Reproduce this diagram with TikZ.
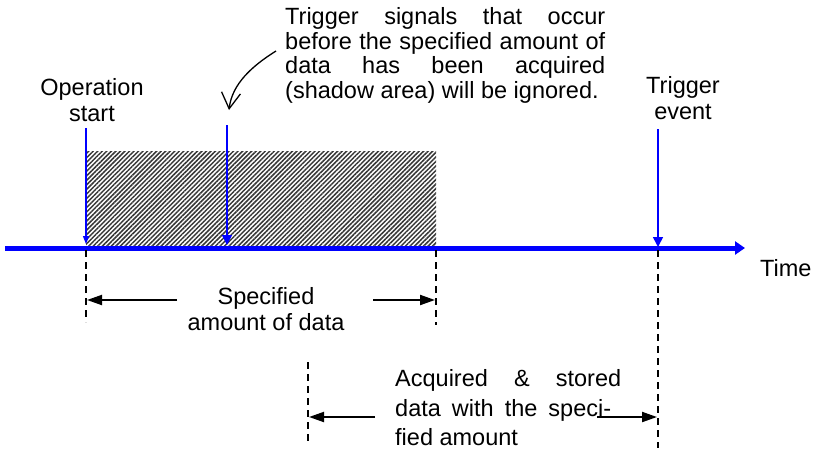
\documentclass[tikz,border=0pt]{standalone}
\usepackage{fontspec}
\setmainfont{Liberation Sans}
\usetikzlibrary{arrows.meta,patterns.meta}

\definecolor{axisblue}{RGB}{0,0,255}
\definecolor{hatchgray}{RGB}{55,55,55}

% a justified line of a given width
\newcommand{\spreadline}[2]{\makebox[#1][s]{#2}}

% multi-line nodes are anchored at the baseline of their last line
\tikzset{
  labeltext/.style={font=\fontsize{23.5}{26}\selectfont, inner sep=0pt, align=center},
  notetext/.style={font=\fontsize{23.5}{24.4}\selectfont, inner sep=0pt, align=left},
  spantext/.style={font=\fontsize{23.5}{29.5}\selectfont, inner sep=0pt, align=left},
  timeaxis/.style={axisblue, line width=5pt, -{Triangle[length=10pt,width=13pt]}},
  startmark/.style={axisblue, line width=1.1pt, -{Triangle[length=8pt,width=6pt]}},
  marker/.style={axisblue, line width=1.6pt, -{Triangle[length=10pt,width=10pt]}},
  guide/.style={black, line width=1.3pt, dash pattern=on 7pt off 5pt},
  span/.style={black, line width=2pt, -{Triangle[length=15pt,width=10pt]}},
  pointer/.style={black, line width=1.3pt, -{Straight Barb[length=16pt,width=19pt]}},
  shadow/.style={pattern={Lines[angle=45,distance=3.2pt,line width=1.5pt]}, pattern color=hatchgray},
}

\begin{document}
\begin{tikzpicture}[x=1pt, y=-1pt]
\useasboundingbox (0,0) rectangle (821,448);

% time axis points
\coordinate (axisL) at (5,248);
\coordinate (axisR) at (745,248);

% ignored region before enough data is acquired
\fill[shadow] (86,151) rectangle (436,247);

% time axis
\draw[timeaxis] (axisL) -- (axisR);
\node[labeltext, anchor=base west] (timeLbl) at (760,276) {Time};

% operation start marker
\coordinate (opTop) at (86,128);
\coordinate (opTip) at (86,244);
\draw[startmark] (opTop) -- (opTip);
\node[labeltext, anchor=base] (opLbl) at (92,121) {Operation\\start};

% an ignored trigger inside the shaded region
\coordinate (midTop) at (227,125);
\coordinate (midTip) at (227,245);
\draw[marker] (midTop) -- (midTip);

% trigger event marker
\coordinate (trTop) at (658,129);
\coordinate (trTip) at (658,247);
\draw[marker] (trTop) -- (trTip);
\node[labeltext, anchor=base] (trLbl) at (683,119) {Trigger\\event};

% explanatory note with its pointer
\node[notetext, anchor=base west] (note) at (285,98)
  {\spreadline{320pt}{Trigger signals that occur}\\
   \spreadline{320pt}{before the specified amount of}\\
   \spreadline{320pt}{data has been acquired}\\
   (shadow area) will be ignored.};
\coordinate (ptrStart) at (276,51);
\coordinate (ptrEnd) at (229,110);
\draw[pointer] (ptrStart) .. controls (252,66) and (232,84) .. (ptrEnd);

% dashed guide lines
\coordinate (g0a) at (86,250);  \coordinate (g0b) at (86,322);
\coordinate (g1a) at (436,250); \coordinate (g1b) at (436,325);
\coordinate (g2a) at (658,250); \coordinate (g2b) at (658,448);
\coordinate (g3a) at (308,362); \coordinate (g3b) at (308,442);
\draw[guide] (g0a) -- (g0b);
\draw[guide] (g1a) -- (g1b);
\draw[guide] (g2a) -- (g2b);
\draw[guide] (g3a) -- (g3b);

% specified amount of data
\coordinate (spL) at (177,300); \coordinate (spLtip) at (87,300);
\coordinate (spR) at (373,300); \coordinate (spRtip) at (435,300);
\draw[span] (spL) -- (spLtip);
\draw[span] (spR) -- (spRtip);
\node[labeltext, anchor=base] (spLbl) at (266,330) {Specified\\amount of data};

% acquired and stored data
\coordinate (acL) at (375,417); \coordinate (acLtip) at (309,417);
\coordinate (acR) at (597,417); \coordinate (acRtip) at (657,417);
\draw[span] (acL) -- (acLtip);
\draw[span] (acR) -- (acRtip);
\node[spantext, anchor=base west] (acLbl) at (395,445.5)
  {\spreadline{226pt}{Acquired \& stored}\\
   \spreadline{216pt}{data with the speci-}\\
   fied amount};
\end{tikzpicture}
\end{document}
